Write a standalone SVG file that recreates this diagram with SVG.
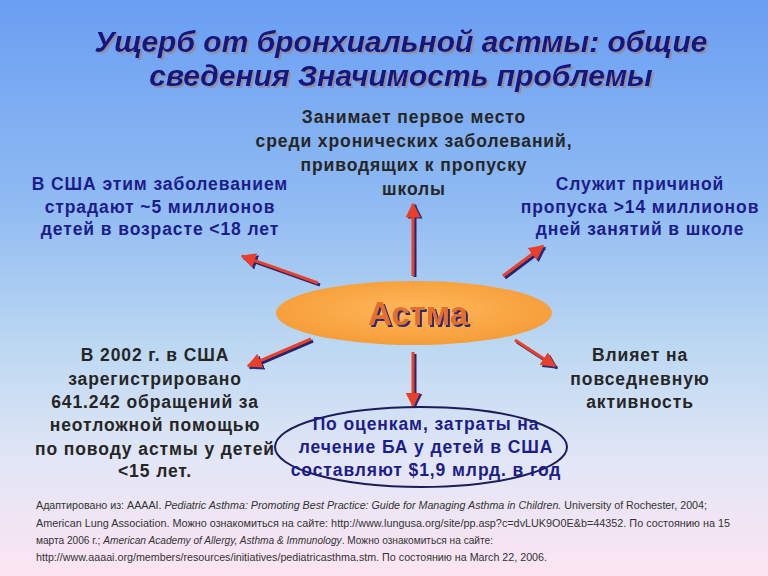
<svg xmlns="http://www.w3.org/2000/svg" width="768" height="576" viewBox="0 0 768 576">
<defs>
<linearGradient id="bg" x1="0" y1="0" x2="0" y2="1">
<stop offset="0" stop-color="#6a9ef2"/>
<stop offset="0.35" stop-color="#8fbaf2"/>
<stop offset="0.6" stop-color="#bcd8f2"/>
<stop offset="0.8" stop-color="#e2e6f6"/>
<stop offset="1" stop-color="#fde4f2"/>
</linearGradient>
<radialGradient id="orange" cx="0.5" cy="0.45" r="0.6">
<stop offset="0" stop-color="#ffb85a"/>
<stop offset="1" stop-color="#f59a36"/>
</radialGradient>
<filter id="tsh" x="-10%" y="-20%" width="120%" height="150%">
<feDropShadow dx="2" dy="2" stdDeviation="0.6" flood-color="#8f8fa8" flood-opacity="1"/>
</filter>
<filter id="ash" x="-10%" y="-20%" width="120%" height="150%">
<feDropShadow dx="2" dy="2" stdDeviation="0.3" flood-color="#2c2a78" flood-opacity="1"/>
</filter>
<marker id="ah" viewBox="0 0 10 10" refX="9" refY="5" markerWidth="5" markerHeight="5" orient="auto" markerUnits="strokeWidth">
<path d="M0,0 L10,5 L0,10 z" fill="#e8402a"/>
</marker>
<marker id="ahs" viewBox="0 0 10 10" refX="9" refY="5" markerWidth="5" markerHeight="5" orient="auto" markerUnits="strokeWidth">
<path d="M0,0 L10,5 L0,10 z" fill="#2a2a7a"/>
</marker>
</defs>
<style>
.t{font-family:"Liberation Sans",Arial,sans-serif;font-weight:bold;font-size:17.5px;letter-spacing:0.9px;text-anchor:middle}
.dk{fill:#262626}
.bl{fill:#1c1c8a}
.title{font-family:"Liberation Sans",Arial,sans-serif;font-weight:bold;font-style:italic;font-size:30px;text-anchor:middle;fill:#12127e}
.sh{stroke:#24246e;stroke-width:3;fill:none;marker-end:url(#ahs)}
.ar{stroke:#e8402a;stroke-width:3;fill:none;marker-end:url(#ah)}
.fn{font-family:"Liberation Sans",Arial,sans-serif;font-size:10.5px;fill:#333}
</style>
<rect x="0" y="0" width="768" height="576" fill="url(#bg)"/>

<g id="title" filter="url(#tsh)">
<text class="title" x="401" y="52">Ущерб от бронхиальной астмы: общие</text>
<text class="title" x="401" y="86">сведения Значимость проблемы</text>
</g>

<g id="connectors">
<line class="sh" x1="415" y1="277" x2="415" y2="205"/>
<line class="ar" x1="413" y1="276" x2="413" y2="204"/>
<line class="sh" x1="320" y1="285" x2="244" y2="258"/>
<line class="ar" x1="318" y1="283" x2="242" y2="256"/>
<line class="sh" x1="505" y1="278" x2="545" y2="248"/>
<line class="ar" x1="503" y1="276" x2="543" y2="246"/>
<line class="sh" x1="313" y1="341" x2="250" y2="368"/>
<line class="ar" x1="311" y1="339" x2="248" y2="366"/>
<line class="sh" x1="517" y1="342" x2="557" y2="368"/>
<line class="ar" x1="515" y1="340" x2="555" y2="366"/>
<line class="sh" x1="415" y1="354" x2="415" y2="407"/>
<line class="ar" x1="413" y1="352" x2="413" y2="406"/>
</g>

<g id="asthma">
<ellipse cx="414" cy="313" rx="138" ry="32" fill="url(#orange)"/>
<text x="418" y="325" font-family="'Liberation Sans',Arial,sans-serif" font-weight="bold" font-size="33" text-anchor="middle" fill="#e2702a" filter="url(#ash)">Астма</text>
</g>

<g id="top">
<text class="t dk" x="414" y="123">Занимает первое место</text>
<text class="t dk" x="414" y="147">среди хронических заболеваний,</text>
<text class="t dk" x="414" y="171">приводящих к пропуску</text>
<text class="t dk" x="414" y="195">школы</text>
</g>

<g id="topleft">
<text class="t bl" x="160" y="190">В США этим заболеванием</text>
<text class="t bl" x="160" y="213">страдают ~5 миллионов</text>
<text class="t bl" x="160" y="235">детей в возрасте &lt;18 лет</text>
</g>

<g id="topright">
<text class="t bl" x="640" y="190">Служит причиной</text>
<text class="t bl" x="640" y="213">пропуска &gt;14 миллионов</text>
<text class="t bl" x="640" y="235">дней занятий в школе</text>
</g>

<g id="bottomleft">
<text class="t dk" x="155" y="361">В 2002 г. в США</text>
<text class="t dk" x="155" y="385">зарегистрировано</text>
<text class="t dk" x="155" y="408">641.242 обращений за</text>
<text class="t dk" x="155" y="431">неотложной помощью</text>
<text class="t dk" x="155" y="455">по поводу астмы у детей</text>
<text class="t dk" x="155" y="477">&lt;15 лет.</text>
</g>

<g id="bottomright">
<text class="t dk" x="640" y="361">Влияет на</text>
<text class="t dk" x="640" y="385">повседневную</text>
<text class="t dk" x="640" y="408">активность</text>
</g>

<g id="bottom">
<ellipse cx="421" cy="447" rx="146" ry="40" fill="none" stroke="#1c1c5a" stroke-width="2"/>
<text class="t bl" x="426" y="430">По оценкам, затраты на</text>
<text class="t bl" x="426" y="453">лечение БА у детей в США</text>
<text class="t bl" x="426" y="476">составляют $1,9 млрд. в год</text>
</g>

<g id="footnote">
<text class="fn" x="36" y="509" textLength="671" lengthAdjust="spacingAndGlyphs">Адаптировано из: AAAAI. <tspan font-style="italic">Pediatric Asthma: Promoting Best Practice: Guide for Managing Asthma in Children.</tspan> University of Rochester, 2004;</text>
<text class="fn" x="36" y="527" textLength="694" lengthAdjust="spacingAndGlyphs">American Lung Association. Можно ознакомиться на сайте: http://www.lungusa.org/site/pp.asp?c=dvLUK9O0E&amp;b=44352. По состоянию на 15</text>
<text class="fn" x="36" y="544" textLength="457" lengthAdjust="spacingAndGlyphs">марта 2006 г.; <tspan font-style="italic">American Academy of Allergy, Asthma &amp; Immunology</tspan>. Можно ознакомиться на сайте:</text>
<text class="fn" x="36" y="561" textLength="511" lengthAdjust="spacingAndGlyphs">http://www.aaaai.org/members/resources/initiatives/pediatricasthma.stm. По состоянию на March 22, 2006.</text>
</g>
</svg>
